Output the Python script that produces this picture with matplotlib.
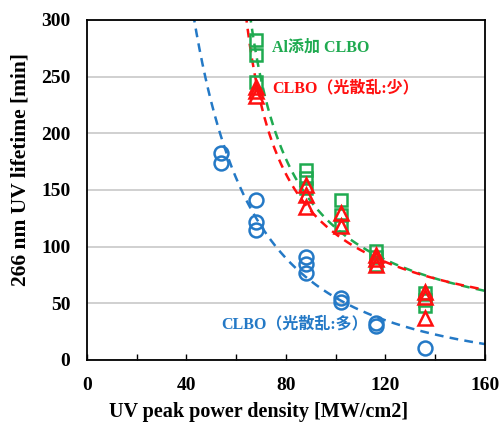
import numpy as np
import matplotlib
matplotlib.use("Agg")
import matplotlib.pyplot as plt

blue_x = [54, 54, 68, 68, 68, 88, 88, 88, 102, 102, 116, 116, 136]
blue_y = [183, 174, 141, 122, 115, 91, 85, 77, 55, 51, 33, 30, 11]

green_x = [68, 68, 68, 88, 88, 88, 102, 102, 102, 116, 116, 116, 136, 136, 136]
green_y = [282, 269, 245, 168, 161, 152, 141, 128, 119, 96, 91, 84, 59, 53, 48]

red_x = [68, 68, 68, 88, 88, 88, 102, 102, 116, 116, 116, 136, 136, 136]
red_y = [241, 237, 233, 154, 146, 135, 130, 118, 93, 89, 84, 60, 56, 37]

# fitted trend curves (parameters)
blue_fit = dict(a=230600.0, b=1.75, d=18.0)      # y = a*x^-b - d
green_fit = dict(a=2893.0, c=50.0, b=0.821)      # y = a*(x-c)^-b
red_fit = dict(a=1812.0, c=52.0, b=0.721)

labels = ["Al添加 CLBO", "CLBO（光散乱:少）", "CLBO（光散乱:多）"]

BLUE = "#2479c6"
GREEN = "#1faa50"
RED = "#ff1010"
serif = ["Liberation Serif", "Noto Sans CJK JP"]

plt.rcParams["font.family"] = serif
plt.rcParams["font.weight"] = "bold"

fig = plt.figure(figsize=(5.02, 4.30), dpi=100)
ax = fig.add_axes([0.1733, 0.1628, 0.9661 - 0.1733, 0.9535 - 0.1628])

ax.set_xlim(0, 160)
ax.set_ylim(0, 300)
ax.set_yticks(np.arange(0, 301, 50))
ax.set_xticks(np.arange(0, 161, 40))
ax.set_xticks(np.arange(20, 161, 40), minor=True)
ax.yaxis.grid(True, color="#c8c8c8", lw=1.2)
ax.set_axisbelow(True)

# trend lines
dash = (0, (3.5, 2.5))
xb = np.linspace(40, 160, 300)
ax.plot(xb, blue_fit["a"] * xb ** -blue_fit["b"] - blue_fit["d"],
        ls=dash, color=BLUE, lw=1.8)
xg = np.linspace(60, 160, 300)
ax.plot(xg, green_fit["a"] * (xg - green_fit["c"]) ** -green_fit["b"],
        ls=dash, color=GREEN, lw=1.8)
ax.plot(xg, red_fit["a"] * (xg - red_fit["c"]) ** -red_fit["b"],
        ls=dash, color=RED, lw=1.8)

# markers
ax.plot(blue_x, blue_y, "o", mfc="none", mec=BLUE, ms=10, mew=1.8, ls="none")
ax.plot(green_x, green_y, "s", mfc="none", mec=GREEN, ms=9, mew=1.8, ls="none")
ax.plot(red_x, red_y, "^", mfc="none", mec=RED, ms=10, mew=1.8, ls="none")

ax.text(74.5, 276, labels[0], color=GREEN, fontsize=11.5, fontweight="bold",
        va="center", family=serif)
ax.text(74.5, 240, labels[1], color=RED, fontsize=11.5, fontweight="bold",
        va="center", family=serif)
ax.text(54, 31, labels[2], color=BLUE, fontsize=11.5, fontweight="bold",
        va="center", family=serif)

for s in ax.spines.values():
    s.set_linewidth(1.3)
    s.set_color("black")

ax.tick_params(axis="y", length=0, pad=12, labelsize=14)
ax.tick_params(axis="x", which="both", direction="in", length=4, width=1,
               pad=12, labelsize=14)

ax.set_xlabel("UV peak power density [MW/cm2]", fontsize=14.5, fontweight="bold")
ax.set_ylabel("266 nm UV lifetime [min]", fontsize=15.5, fontweight="bold")
ax.xaxis.set_label_coords(0.43, -0.125)
ax.yaxis.set_label_coords(-0.142, 0.56)

fig.savefig("out.png", dpi=100)
